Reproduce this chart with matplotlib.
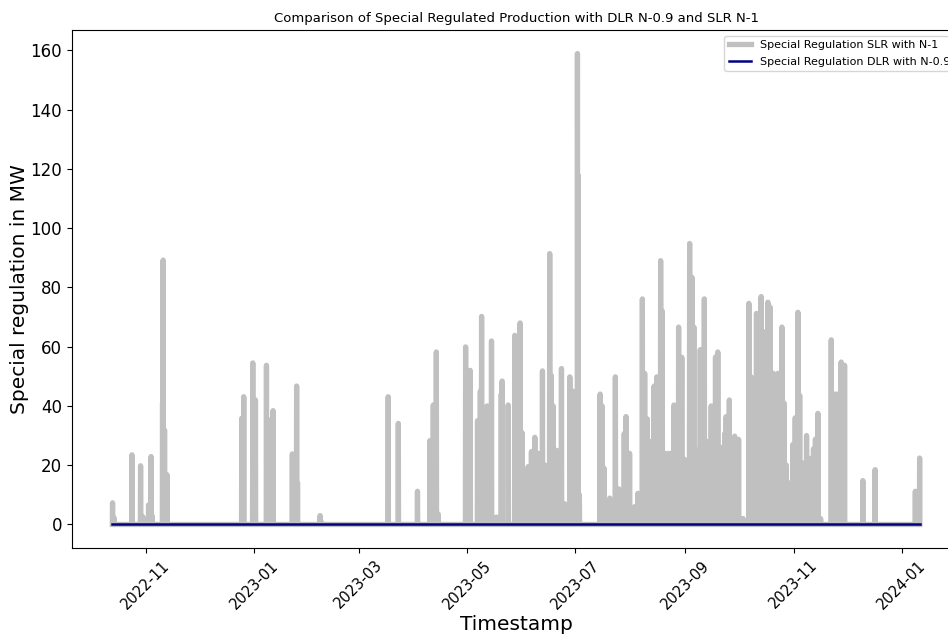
import pandas as pd
import matplotlib
matplotlib.use("Agg")
import matplotlib.pyplot as plt
import matplotlib.dates as mdates

# peaks of the special regulation with static line rating (SLR, N-1), MW
slr_dates = [
    "2022-10-13 07:00", "2022-10-14 02:00", "2022-10-24 05:00", "2022-10-29 02:00",
    "2022-10-29 17:00", "2022-10-30 10:00", "2022-11-02 14:00", "2022-11-04 00:00",
    "2022-11-04 12:00", "2022-11-10 11:00", "2022-11-10 19:00", "2022-11-11 14:00",
    "2022-11-12 22:00", "2022-12-25 02:00", "2022-12-26 05:00", "2022-12-31 07:00",
    "2023-01-01 19:00", "2023-01-08 00:00", "2023-01-09 19:00", "2023-01-11 17:00",
    "2023-01-22 14:00", "2023-01-25 00:00", "2023-01-25 12:00", "2023-02-07 05:00",
    "2023-02-07 19:00", "2023-03-17 14:00", "2023-03-23 07:00", "2023-04-03 02:00",
    "2023-04-10 02:00", "2023-04-12 00:00", "2023-04-13 17:00", "2023-04-14 19:00",
    "2023-04-30 05:00", "2023-05-01 10:00", "2023-05-02 19:00", "2023-05-06 22:00",
    "2023-05-08 12:00", "2023-05-09 05:00", "2023-05-10 12:00", "2023-05-12 07:00",
    "2023-05-14 19:00", "2023-05-17 14:00", "2023-05-20 07:00", "2023-05-20 19:00",
    "2023-05-24 05:00", "2023-05-27 22:00", "2023-05-29 00:00", "2023-05-30 22:00",
    "2023-06-01 00:00", "2023-06-04 10:00", "2023-06-06 07:00", "2023-06-08 05:00",
    "2023-06-10 02:00", "2023-06-12 12:00", "2023-06-14 00:00", "2023-06-16 14:00",
    "2023-06-17 10:00", "2023-06-18 12:00", "2023-06-20 12:00", "2023-06-23 05:00",
    "2023-06-25 00:00", "2023-06-27 22:00", "2023-06-29 14:00", "2023-07-02 05:00",
    "2023-07-02 12:00", "2023-07-03 07:00", "2023-07-15 00:00", "2023-07-16 02:00",
    "2023-07-17 05:00", "2023-07-20 10:00", "2023-07-23 14:00", "2023-07-25 14:00",
    "2023-07-28 14:00", "2023-07-29 14:00", "2023-07-31 14:00", "2023-08-03 10:00",
    "2023-08-05 07:00", "2023-08-07 19:00", "2023-08-09 02:00", "2023-08-10 14:00",
    "2023-08-12 02:00", "2023-08-14 10:00", "2023-08-15 22:00", "2023-08-18 02:00",
    "2023-08-19 00:00", "2023-08-20 14:00", "2023-08-22 17:00", "2023-08-24 00:00",
    "2023-08-25 14:00", "2023-08-28 05:00", "2023-08-30 00:00", "2023-08-31 12:00",
    "2023-09-03 10:00", "2023-09-04 17:00", "2023-09-05 19:00", "2023-09-08 00:00",
    "2023-09-09 10:00", "2023-09-11 17:00", "2023-09-13 10:00", "2023-09-15 14:00",
    "2023-09-16 19:00", "2023-09-18 00:00", "2023-09-19 07:00", "2023-09-21 07:00",
    "2023-09-23 05:00", "2023-09-24 00:00", "2023-09-25 19:00", "2023-09-27 00:00",
    "2023-09-28 19:00", "2023-10-01 00:00", "2023-10-03 12:00", "2023-10-06 19:00",
    "2023-10-08 02:00", "2023-10-11 02:00", "2023-10-12 05:00", "2023-10-13 17:00",
    "2023-10-15 07:00", "2023-10-16 00:00", "2023-10-17 12:00", "2023-10-18 19:00",
    "2023-10-20 12:00", "2023-10-21 14:00", "2023-10-23 05:00", "2023-10-25 10:00",
    "2023-10-26 14:00", "2023-10-27 22:00", "2023-10-29 19:00", "2023-10-31 14:00",
    "2023-11-01 22:00", "2023-11-03 10:00", "2023-11-04 10:00", "2023-11-06 07:00",
    "2023-11-08 07:00", "2023-11-10 00:00", "2023-11-12 05:00", "2023-11-13 07:00",
    "2023-11-14 17:00", "2023-11-16 05:00", "2023-11-22 05:00", "2023-11-23 17:00",
    "2023-11-25 05:00", "2023-11-27 19:00", "2023-11-29 17:00", "2023-12-10 00:00",
    "2023-12-16 22:00", "2024-01-08 14:00", "2024-01-11 00:00",
]
slr_peaks = [
    7.3, 2.3, 23.5, 19.8, 2.9, 2.5, 6.6, 22.9,
    3.0, 41.0, 89.2, 31.9, 16.8, 35.8, 43.1, 54.5,
    42.0, 53.7, 35.2, 38.4, 23.8, 46.7, 14.0, 3.0,
    1.0, 43.1, 34.1, 11.2, 28.3, 40.3, 58.2, 3.5,
    59.9, 40.0, 52.0, 35.0, 45.0, 70.2, 38.0, 40.0,
    61.9, 2.5, 44.0, 48.4, 40.3, 63.8, 35.0, 68.0,
    31.0, 19.5, 24.6, 29.4, 24.0, 51.8, 20.0, 91.4,
    50.3, 40.0, 25.0, 52.6, 7.0, 49.8, 45.0, 158.9,
    118.0, 10.0, 44.0, 40.0, 19.0, 8.9, 49.8, 12.0,
    30.7, 36.4, 24.0, 6.0, 10.5, 76.1, 51.0, 35.6,
    28.0, 46.7, 49.8, 89.0, 72.0, 24.0, 24.0, 24.0,
    40.3, 66.6, 56.4, 22.0, 94.8, 83.4, 66.6, 25.0,
    59.0, 76.1, 28.0, 40.0, 39.0, 56.5, 58.2, 26.0,
    30.7, 36.4, 42.0, 21.0, 29.8, 28.7, 2.0, 74.6,
    49.8, 71.2, 51.0, 76.9, 65.0, 51.0, 75.0, 73.3,
    51.0, 50.0, 51.0, 66.6, 41.0, 20.0, 14.0, 27.0,
    36.0, 71.6, 43.6, 20.7, 30.0, 22.3, 25.5, 28.8,
    37.5, 2.0, 62.3, 44.0, 44.0, 54.8, 53.7, 14.8,
    18.5, 11.2, 22.4,
]

# each peak is an isolated event, the line returns to zero in between
times, values = [], []
for d, v in zip(pd.to_datetime(slr_dates), slr_peaks):
    times += [d - pd.Timedelta(hours=3), d, d + pd.Timedelta(hours=3)]
    values += [0.0, v, 0.0]
slr = pd.Series(values, index=times)

# DLR with N-0.9 never needs special regulation
dlr = pd.Series([0.0, 0.0], index=[slr.index[0], slr.index[-1]])

fig = plt.figure(figsize=(9.48, 6.35), dpi=100)
ax = fig.add_axes([0.0759, 0.137, 0.937, 0.8158])

ax.plot(slr.index, slr.values, color="silver", linewidth=3.8,
        label="Special Regulation SLR with N-1")
ax.plot(dlr.index, dlr.values, color="navy", linewidth=1.8,
        label="Special Regulation DLR with N-0.9")

ax.xaxis.set_major_locator(mdates.MonthLocator(bymonth=[1, 3, 5, 7, 9, 11]))
ax.xaxis.set_major_formatter(mdates.DateFormatter("%Y-%m"))
plt.setp(ax.get_xticklabels(), rotation=45)
ax.tick_params(axis="x", labelsize=10.5)
ax.tick_params(axis="y", labelsize=12)

ax.set_xlabel("Timestamp", fontsize=14.5, labelpad=2)
ax.set_ylabel("Special regulation in MW", fontsize=14.5, labelpad=1)
ax.set_title("Comparison of Special Regulated Production with DLR N-0.9 and SLR N-1",
             fontsize=9.5)
ax.legend(loc="upper right", fontsize=8, labelspacing=0.6)

fig.savefig("out.png", dpi=100)
